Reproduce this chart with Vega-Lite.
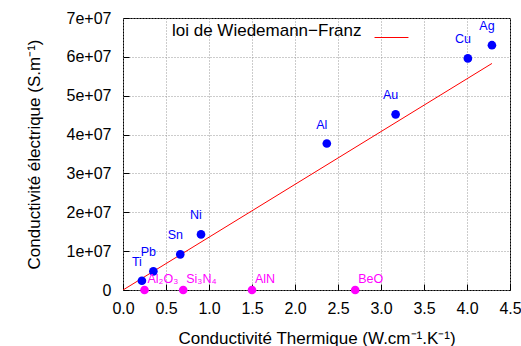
{
  "$schema": "https://vega.github.io/schema/vega-lite/v6.json",
  "width": 387,
  "height": 272,
  "autosize": {"type": "none"},
  "padding": {"left": 123, "top": 18, "right": 11, "bottom": 56},
  "background": "white",
  "config": {
    "font": "Liberation Sans",
    "view": {"stroke": "black", "strokeWidth": 1},
    "axis": {
      "labelFont": "Liberation Sans",
      "titleFont": "Liberation Sans",
      "labelFontSize": 16,
      "titleFontSize": 17,
      "titleFontWeight": "normal",
      "labelColor": "black",
      "titleColor": "black",
      "domain": false,
      "tickColor": "black",
      "tickSize": -6,
      "tickWidth": 1,
      "gridColor": "#999999",
      "gridDash": [1, 2],
      "gridOpacity": 1,
      "gridWidth": 1
    }
  },
  "datasets": {
    "law": [
      {"k": 0, "sigma": 0, "series": "loi de Wiedemann−Franz"},
      {"k": 4.29, "sigma": 58300000, "series": "loi de Wiedemann−Franz"}
    ],
    "metals": [
      {"name": "Ti", "k": 0.22, "sigma": 2380000},
      {"name": "Pb", "k": 0.353, "sigma": 4800000},
      {"name": "Sn", "k": 0.666, "sigma": 9170000},
      {"name": "Ni", "k": 0.907, "sigma": 14300000},
      {"name": "Al", "k": 2.37, "sigma": 37700000},
      {"name": "Au", "k": 3.17, "sigma": 45200000},
      {"name": "Cu", "k": 4.01, "sigma": 59600000},
      {"name": "Ag", "k": 4.29, "sigma": 63000000}
    ],
    "insulators": [
      {"name": "Al₂O₃", "k": 0.25, "sigma": 0},
      {"name": "Si₃N₄", "k": 0.7, "sigma": 0},
      {"name": "AlN", "k": 1.5, "sigma": 0},
      {"name": "BeO", "k": 2.7, "sigma": 0}
    ]
  },
  "resolve": {"axis": {"x": "independent", "y": "independent"}},
  "layer": [
    {
      "data": {"name": "law"},
      "mark": {"type": "line", "strokeWidth": 1, "clip": true},
      "encoding": {
        "x": {
          "field": "k", "type": "quantitative",
          "scale": {"domain": [0, 4.5], "nice": false, "zero": false},
          "axis": {
            "orient": "bottom",
            "values": [0, 0.5, 1, 1.5, 2, 2.5, 3, 3.5, 4, 4.5],
            "format": ".1f",
            "labelPadding": 16,
            "labelFlush": false,
            "title": "Conductivité Thermique (W.cm⁻¹.K⁻¹)",
            "titlePadding": 14
          }
        },
        "y": {
          "field": "sigma", "type": "quantitative",
          "scale": {"domain": [0, 70000000], "nice": false},
          "axis": {
            "orient": "left",
            "values": [0, 10000000, 20000000, 30000000, 40000000, 50000000, 60000000, 70000000],
            "labelExpr": "datum.value == 0 ? '0' : (datum.value / 10000000) + 'e+07'",
            "labelPadding": 18,
            "labelFlush": false,
            "title": "Conductivité électrique (S.m⁻¹)",
            "titlePadding": 23
          }
        },
        "color": {
          "field": "series", "type": "nominal",
          "scale": {"range": ["#ff0000"]},
          "legend": {
            "orient": "none",
            "legendX": 49,
            "legendY": 2,
            "title": "loi de Wiedemann−Franz",
            "titleOrient": "left",
            "titleFontSize": 17,
            "titleFontWeight": "normal",
            "titleFont": "Liberation Sans",
            "titleColor": "black",
            "titleBaseline": "middle",
            "titleLimit": 400,
            "titlePadding": 12,
            "labelExpr": "''",
            "labelOffset": 0,
            "symbolType": "stroke",
            "symbolStrokeWidth": 1,
            "symbolSize": 1150,
            "padding": 0
          }
        }
      }
    },
    {
      "data": {"name": "metals"},
      "layer": [
        {
          "mark": {"type": "point", "filled": true, "size": 75, "opacity": 1, "color": "#0000ff"},
          "encoding": {
            "x": {
              "field": "k", "type": "quantitative",
              "axis": {
                "orient": "top",
                "values": [0, 0.5, 1, 1.5, 2, 2.5, 3, 3.5, 4, 4.5],
                "labels": false, "grid": false, "title": null
              }
            },
            "y": {
              "field": "sigma", "type": "quantitative",
              "axis": {
                "orient": "right",
                "values": [0, 10000000, 20000000, 30000000, 40000000, 50000000, 60000000, 70000000],
                "labels": false, "grid": false, "title": null
              }
            }
          }
        },
        {
          "mark": {"type": "text", "color": "#0000ff", "fontSize": 12.5, "font": "Liberation Sans", "align": "center", "baseline": "middle", "dx": -5, "dy": -19},
          "encoding": {
            "x": {"field": "k", "type": "quantitative", "axis": null},
            "y": {"field": "sigma", "type": "quantitative", "axis": null},
            "text": {"field": "name"}
          }
        }
      ]
    },
    {
      "data": {"name": "insulators"},
      "layer": [
        {
          "mark": {"type": "point", "filled": true, "size": 75, "opacity": 1, "color": "#ff00ff", "clip": false},
          "encoding": {
            "x": {"field": "k", "type": "quantitative", "axis": null},
            "y": {"field": "sigma", "type": "quantitative", "axis": null}
          }
        },
        {
          "mark": {"type": "text", "color": "#ff00ff", "fontSize": 12.5, "font": "Liberation Sans", "align": "left", "baseline": "alphabetic", "dx": 3, "dy": -7},
          "encoding": {
            "x": {"field": "k", "type": "quantitative", "axis": null},
            "y": {"field": "sigma", "type": "quantitative", "axis": null},
            "text": {"field": "name"}
          }
        }
      ]
    }
  ]
}
